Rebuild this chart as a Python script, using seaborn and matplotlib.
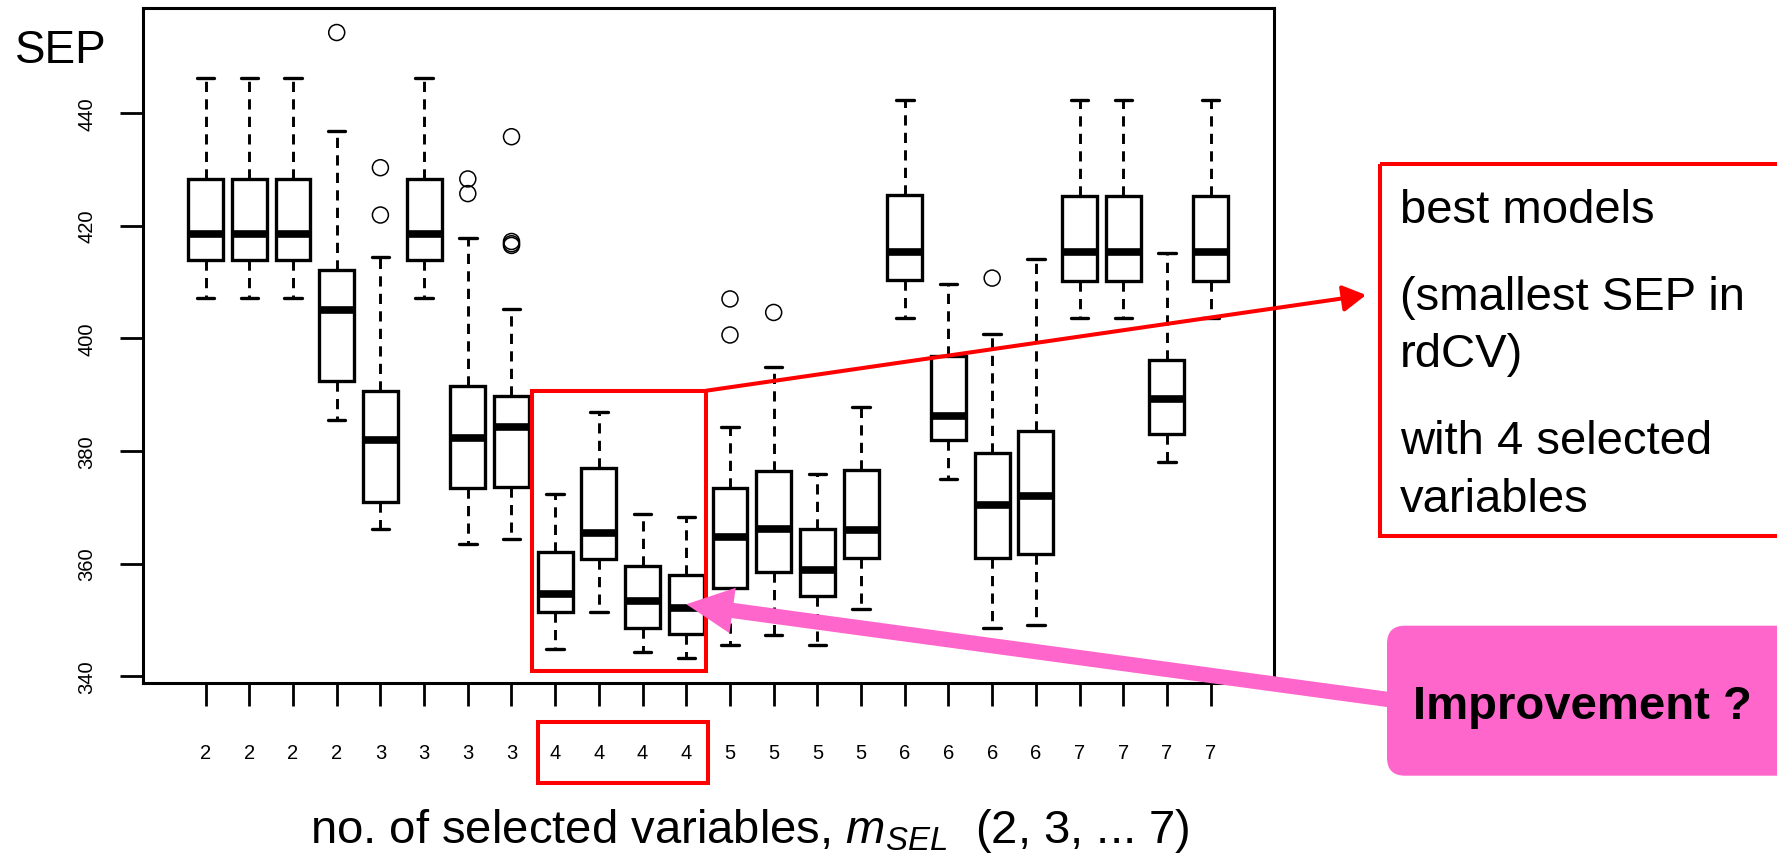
import numpy as np
import pandas as pd
import matplotlib
matplotlib.use("Agg")
import matplotlib.pyplot as plt
import matplotlib.transforms as mtransforms
from matplotlib.patches import Rectangle, FancyBboxPatch, ConnectionPatch
import seaborn as sns

# ---------------- data ----------------
m_sel = [2, 2, 2, 2, 3, 3, 3, 3, 4, 4, 4, 4, 5, 5, 5, 5, 6, 6, 6, 6, 7, 7, 7, 7]
whisker_low = [407.1, 407.1, 407.1, 385.5, 366.1, 407.1, 363.5, 364.3,
               344.8, 351.5, 344.4, 343.2, 345.6, 347.3, 345.6, 352.0,
               403.7, 375.1, 348.5, 349.1, 403.6, 403.6, 378.0, 403.6]
q1 = [414.0, 414.0, 414.0, 392.5, 370.9, 414.0, 373.4, 373.6,
      351.5, 360.8, 348.5, 347.5, 355.6, 358.5, 354.3, 361.0,
      410.3, 382.0, 361.0, 361.7, 410.1, 410.1, 383.0, 410.1]
median = [418.6, 418.6, 418.6, 405.1, 382.0, 418.6, 382.3, 384.3,
          354.7, 365.5, 353.4, 352.1, 364.7, 366.1, 358.9, 366.0,
          415.3, 386.2, 370.5, 372.0, 415.3, 415.3, 389.2, 415.3]
q3 = [428.3, 428.3, 428.3, 412.1, 390.7, 428.3, 391.5, 389.7,
      362.1, 377.0, 359.6, 358.0, 373.4, 376.5, 366.1, 376.7,
      425.4, 396.9, 379.6, 383.5, 425.2, 425.2, 396.2, 425.2]
whisker_high = [446.3, 446.3, 446.3, 436.8, 414.5, 446.3, 417.8, 405.3,
                372.3, 386.9, 368.8, 368.2, 384.2, 395.0, 376.0, 387.9,
                442.4, 409.7, 400.7, 414.1, 442.3, 442.3, 415.2, 442.3]
outlier_box = [4, 5, 5, 7, 7, 8, 8, 8, 8, 13, 13, 14, 19]          # 1-based model number
outlier_sep = [454.3, 430.3, 421.9, 428.3, 425.7, 435.8, 417.2, 416.8,
               416.5, 407.0, 400.6, 404.6, 410.7]
yticks = [340, 360, 380, 400, 420, 440]

# ---------------- tables ----------------
rows = []
for i in range(len(m_sel)):
    for v in (whisker_low[i], q1[i], median[i], q3[i], whisker_high[i]):
        rows.append({"model": i, "SEP": v})
df = pd.DataFrame(rows)
odf = pd.DataFrame({"model": [b - 1 for b in outlier_box], "SEP": outlier_sep})
order = list(range(len(m_sel)))

# ---------------- style ----------------
sns.set_style("ticks")
plt.rcParams["font.family"] = ["Liberation Sans", "DejaVu Sans"]
plt.rcParams["mathtext.fontset"] = "custom"
plt.rcParams["mathtext.rm"] = "Liberation Sans"
plt.rcParams["mathtext.it"] = "Liberation Sans:italic"
plt.rcParams["mathtext.bf"] = "Liberation Sans:bold"
for k in ["text.color", "axes.labelcolor", "xtick.color", "ytick.color", "axes.edgecolor"]:
    plt.rcParams[k] = "black"

W, H = 1777, 854
fig = plt.figure(figsize=(W / 100, H / 100), dpi=100)
ax = fig.add_axes([142.7 / W, 1 - 684.3 / H, (1274 - 142.7) / W, (684.3 - 9.3) / H])

sns.boxplot(data=df, x="model", y="SEP", order=order, ax=ax, color="white",
            linecolor="black", linewidth=2.4, width=0.8, whis=(0, 100), showfliers=False,
            medianprops={"linewidth": 5.5},
            whiskerprops={"linestyle": (0, (3.5, 2.5)), "linewidth": 2.1},
            capprops={"linewidth": 2.4},
            boxprops={"linewidth": 2.4})

n_coll = len(ax.collections)
sns.stripplot(data=odf, x="model", y="SEP", order=order, ax=ax, jitter=False,
              marker="o", size=11.5, color="black", linewidth=1.1, zorder=5)
for coll in ax.collections[n_coll:]:
    coll.set_facecolor("none")
    coll.set_edgecolor("black")
    coll.set_linewidth(1.1)

ax.set_xlim(-1.44, 24.45)
ax.set_ylim(338.76, 458.6)
ax.set_xticks(order)
ax.set_xticklabels([str(v) for v in m_sel], fontsize=14.5, color="black")
ax.set_yticks(yticks)
ax.set_yticklabels([str(v) for v in yticks], rotation=90, va="center", fontsize=14.5,
                   color="black")
ax.set_xlabel("")
ax.set_ylabel("")
ax.tick_params(axis="x", length=16.5, width=2.0, pad=26.5, colors="black")
ax.tick_params(axis="y", length=16.5, width=2.0, pad=17, colors="black")
for sp in ax.spines.values():
    sp.set_visible(True)
    sp.set_linewidth(2.2)
    sp.set_color("black")
ax.grid(False)

RED = "#FF0000"
PINK = "#FF66CC"
TD = ax.transData

# red box around the 4-variable models
fig.add_artist(Rectangle((7.48, 341.0), 11.45 - 7.48, 390.7 - 341.0, fill=False,
                         ec=RED, lw=2.9, transform=TD, clip_on=False, zorder=6))
# red box around the "4" tick labels
blend = mtransforms.blended_transform_factory(TD, fig.transFigure)
fig.add_artist(Rectangle((7.6, 1 - 784 / H), 11.5 - 7.6, (784 - 723) / H, fill=False,
                         ec=RED, lw=2.9, transform=blend, clip_on=False, zorder=6))

# red arrow to the text box
fig.add_artist(ConnectionPatch(xyA=(11.45, 390.7), coordsA=TD,
                               xyB=(1366 / W, 1 - 296 / H), coordsB=fig.transFigure,
                               arrowstyle="-|>,head_length=0.7,head_width=0.4",
                               mutation_scale=20, color=RED, lw=2.9,
                               shrinkA=0, shrinkB=0, zorder=7))
# pink arrow to the best box
fig.add_artist(ConnectionPatch(xyA=(1392 / W, 1 - 701 / H), coordsA=fig.transFigure,
                               xyB=(11.0, 352.8), coordsB=TD,
                               arrowstyle="simple,head_length=1.53,head_width=1.5,tail_width=0.5",
                               mutation_scale=22, fc=PINK, ec="none",
                               shrinkA=0, shrinkB=0, zorder=7))

# overlay axes in pixel coordinates for texts / boxes
ov = fig.add_axes([0, 0, 1, 1], zorder=10)
ov.set_xlim(0, W)
ov.set_ylim(H, 0)
ov.axis("off")

ov.text(15, 63, "SEP", fontsize=33, va="baseline", ha="left", color="black")
ov.text(310, 843, "no. of selected variables, $m_{SEL}$  (2, 3, ... 7)",
        fontsize=34, va="baseline", ha="left", color="black")

ov.add_patch(Rectangle((1380, 165), 420, 371.7, fill=False, ec=RED, lw=2.9, clip_on=False))
for txt, yb in [("best models", 223.3), ("(smallest SEP in", 310), ("rdCV)", 366.7),
                ("with 4 selected", 454), ("variables", 511.7)]:
    ov.text(1400, yb, txt, fontsize=34, va="baseline", ha="left", color="black")

ov.add_patch(FancyBboxPatch((1387, 626.7), 430, 150, boxstyle="round,pad=0,rounding_size=18",
                            fc=PINK, ec="none", clip_on=False))
ov.text(1413, 719, "Improvement ?", fontsize=34, fontweight="bold", va="baseline",
        ha="left", color="black")

fig.savefig("out.png", dpi=100)
